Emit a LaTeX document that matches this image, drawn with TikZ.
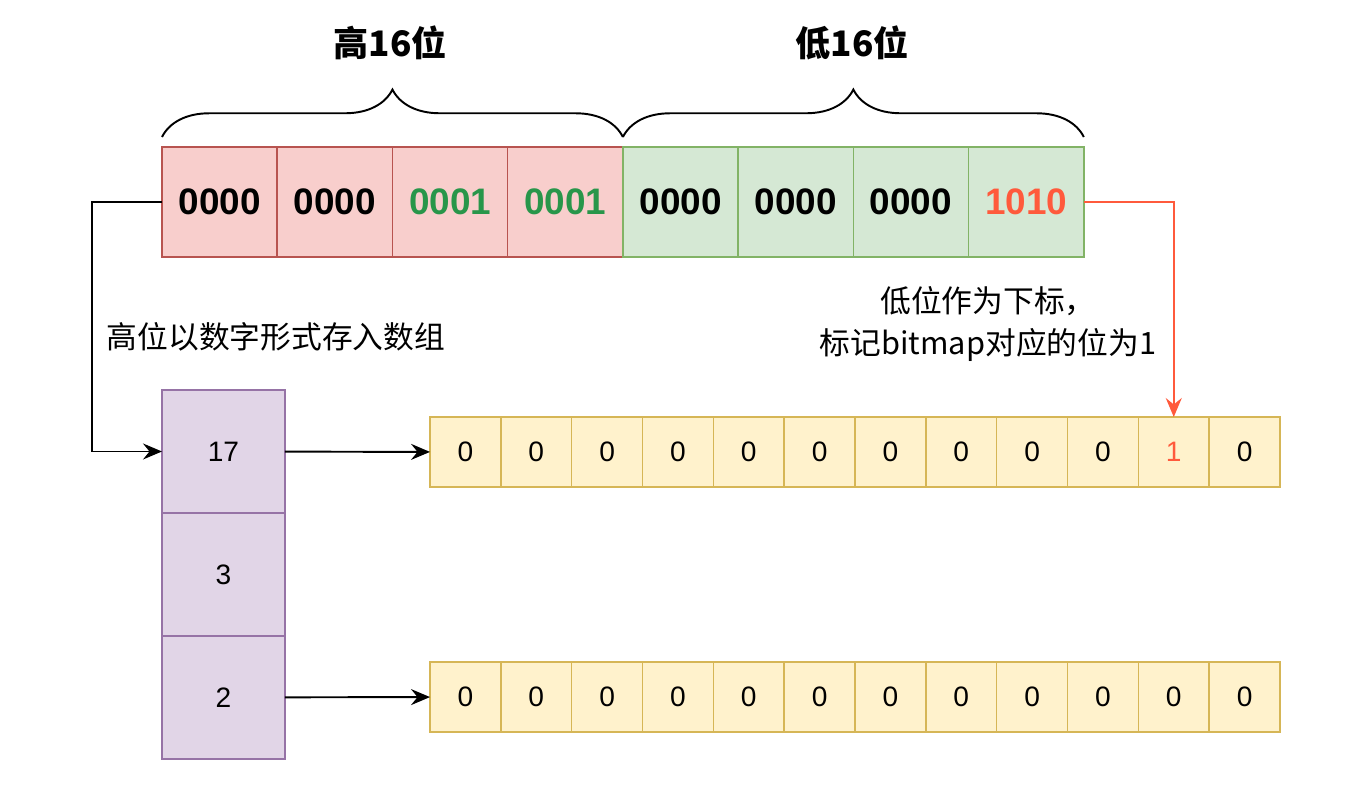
\documentclass[tikz,border=0pt]{standalone}
\usepackage{fontspec}
\setmainfont{Liberation Sans}
\newfontfamily\cjk{Noto Sans CJK SC}
\usetikzlibrary{arrows.meta,positioning,decorations.pathreplacing}

\definecolor{redfill}{HTML}{F8CECC}
\definecolor{redline}{HTML}{B85450}
\definecolor{greenfill}{HTML}{D5E8D4}
\definecolor{greenline}{HTML}{82B366}
\definecolor{purplefill}{HTML}{E1D5E7}
\definecolor{purpleline}{HTML}{9673A6}
\definecolor{yellowfill}{HTML}{FFF2CC}
\definecolor{yellowline}{HTML}{D6B656}
\definecolor{bitgreen}{HTML}{28964A}
\definecolor{bitred}{HTML}{FF5A3C}

\begin{document}
\begin{tikzpicture}[
  x=0.02cm, y=-0.02cm,
  >={Stealth[length=3.8mm,width=3.2mm,inset=1.3mm]},
  cell/.style={rectangle, draw, outer sep=0pt, inner sep=0pt, line width=0.9pt},
  hbits/.style={cell, fill=redfill, draw=redline, minimum width=2.305cm, minimum height=2.2cm, font=\fontsize{21}{25}\selectfont\bfseries},
  lbits/.style={hbits, fill=greenfill, draw=greenline},
  slot/.style={cell, fill=purplefill, draw=purpleline, minimum width=2.46cm, minimum height=2.46cm, font=\fontsize{16}{19}\selectfont},
  bit/.style={cell, fill=yellowfill, draw=yellowline, minimum width=1.4167cm, minimum height=1.4cm, font=\fontsize{16}{19}\selectfont},
  headlabel/.style={font=\cjk\bfseries\fontsize{20}{24}\selectfont},
  remark/.style={font=\cjk\fontsize{17.5}{24}\selectfont, align=center},
  link/.style={->, line width=1.1pt},
  bracket/.style={decorate, decoration={brace, amplitude=0.95cm}, line width=1.1pt}
]
\useasboundingbox (0,0) rectangle (1370,804);

% 32-bit number
\node[hbits, anchor=west] (h1) at (162,202) {0000};
\node[hbits, right=0pt of h1] (h2) {0000};
\node[hbits, right=0pt of h2, text=bitgreen] (h3) {0001};
\node[hbits, right=0pt of h3, text=bitgreen] (h4) {0001};
\node[lbits, right=0pt of h4] (l1) {0000};
\node[lbits, right=0pt of l1] (l2) {0000};
\node[lbits, right=0pt of l2] (l3) {0000};
\node[lbits, right=0pt of l3, text=bitred] (l4) {1010};

\draw[bracket] ([yshift=2mm]h1.north west) -- ([yshift=2mm]h4.north east);
\draw[bracket] ([yshift=2mm]l1.north west) -- ([yshift=2mm]l4.north east);
\node[headlabel] (hightitle) at (390,43) {高16位};
\node[headlabel] (lowtitle) at (852,43) {低16位};

% high part array
\node[slot, anchor=north west] (s1) at (162,390) {17};
\node[slot, below=0pt of s1] (s2) {3};
\node[slot, below=0pt of s2] (s3) {2};

% bitmaps
\foreach \i in {1,...,12} {
  \node[bit] (a\i) at ({394.6+\i*70.833},452) {\ifnum\i=11 \textcolor{bitred}{1}\else 0\fi};
  \node[bit] (b\i) at ({394.6+\i*70.833},697) {0};
}

\node[remark] (highnote) at (276,337) {高位以数字形式存入数组};
\node[remark] (lownote) at (988,324) {低位作为下标，\\标记bitmap对应的位为1};

\draw[link] (h1.west) -- ++(-70,0) |- (s1.west);
\draw[link] (s1) -- (a1);
\draw[link] (s3) -- (b1);
\draw[link, bitred] (l4.east) -| (a11.north);
\end{tikzpicture}
\end{document}
